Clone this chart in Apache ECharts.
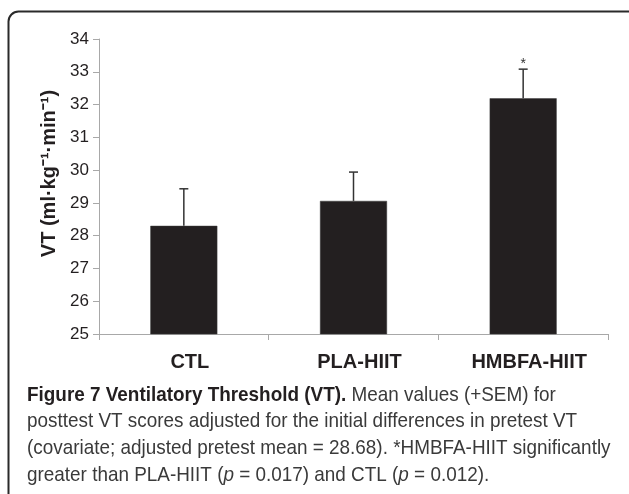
<!DOCTYPE html>
<html>
<head>
<meta charset="utf-8">
<script src="https://cdn.jsdelivr.net/npm/echarts@6/dist/echarts.min.js"></script>
<style>
html,body{margin:0;padding:0;background:#fff;}
#chart{width:629px;height:494px;}
</style>
</head>
<body>
<div id="chart"></div>
<script>
// ---- data ----
var categories = ['CTL', 'PLA-HIIT', 'HMBFA-HIIT'];
var meanValues = [28.30, 29.06, 32.19];
var semUpper = [29.43, 29.94, 33.08];
var significance = ['', '', '*'];
var yTicks = [25, 26, 27, 28, 29, 30, 31, 32, 33, 34];
var yAxisTitle = 'VT (ml·kg⁻¹·min⁻¹)';
var captionLines = [
  [{t:'Figure 7 Ventilatory Threshold (VT).', s:'b'}, {t:' Mean values (+SEM) for', s:'n'}],
  [{t:'posttest VT scores adjusted for the initial differences in pretest VT', s:'n'}],
  [{t:'(covariate; adjusted pretest mean = 28.68). *HMBFA-HIIT significantly', s:'n'}],
  [{t:'greater than PLA-HIIT (', s:'n'}, {t:'p', s:'i'}, {t:' = 0.017) and CTL (', s:'n'}, {t:'p', s:'i'}, {t:' = 0.012).', s:'n'}]
];

var chart = echarts.init(document.getElementById('chart'), null, {renderer: 'canvas'});

var captionFont = '"Liberation Sans", Arial, sans-serif';
var captionLineY = [395, 421.7, 448.3, 475];
var captionGraphics = captionLines.map(function (line, i) {
  return {
    type: 'text',
    x: 27,
    y: captionLineY[i],
    scaleX: 0.9,
    scaleY: 1,
    originX: 0,
    originY: 0,
    style: {
      text: line.map(function (p) { return '{' + p.s + '|' + p.t + '}'; }).join(''),
      verticalAlign: 'middle',
      align: 'left',
      rich: {
        b: {fontFamily: captionFont, fontSize: 21, fontWeight: 'bold', fill: '#231f20', lineHeight: 24},
        n: {fontFamily: captionFont, fontSize: 21, fontWeight: 'normal', fill: '#3a3a3a', lineHeight: 24},
        i: {fontFamily: captionFont, fontSize: 21, fontStyle: 'italic', fill: '#3a3a3a', lineHeight: 24}
      }
    }
  };
});

var option = {
  backgroundColor: '#ffffff',
  animation: false,
  grid: {left: 99, right: 21, top: 39, bottom: 160, containLabel: false},
  xAxis: {
    type: 'category',
    data: categories,
    axisLine: {show: true, lineStyle: {color: '#a8a8a8', width: 1}},
    axisTick: {show: true, alignWithLabel: false, length: 6, lineStyle: {color: '#a8a8a8'}},
    axisLabel: {
      margin: 18,
      fontFamily: '"Liberation Sans", Arial, sans-serif',
      fontSize: 20,
      fontWeight: 'bold',
      color: '#231f20',
      padding: [0, 0, 0, 12]
    }
  },
  yAxis: {
    type: 'value',
    min: yTicks[0],
    max: yTicks[yTicks.length - 1],
    interval: 1,
    name: yAxisTitle,
    nameLocation: 'middle',
    nameGap: 39,
    nameRotate: 90,
    nameTextStyle: {
      fontFamily: '"Liberation Sans", Arial, sans-serif',
      fontSize: 20,
      fontWeight: 'bold',
      color: '#231f20',
      padding: [0, 0, 0, 26]
    },
    splitLine: {show: false},
    axisLine: {show: true, lineStyle: {color: '#a8a8a8', width: 1}},
    axisTick: {show: true, length: 6, lineStyle: {color: '#a8a8a8'}},
    axisLabel: {
      margin: 10,
      fontFamily: '"Liberation Sans", Arial, sans-serif',
      fontSize: 17,
      color: '#231f20'
    }
  },
  series: [
    {
      type: 'bar',
      data: meanValues,
      barWidth: 67,
      itemStyle: {color: '#231f20', borderColor: '#3a3a3a', borderWidth: 0.5},
      z: 2
    },
    {
      type: 'custom',
      data: categories.map(function (c, i) { return [i, meanValues[i], semUpper[i]]; }),
      z: 3,
      renderItem: function (params, api) {
        var i = api.value(0);
        var lo = api.coord([i, api.value(1)]);
        var hi = api.coord([i, api.value(2)]);
        var half = 4.5;
        var children = [
          {type: 'line', shape: {x1: lo[0], y1: lo[1], x2: hi[0], y2: hi[1]}, style: {stroke: '#333', lineWidth: 1.5}},
          {type: 'line', shape: {x1: hi[0] - half, y1: hi[1], x2: hi[0] + half, y2: hi[1]}, style: {stroke: '#333', lineWidth: 1.5}}
        ];
        var mark = significance[i];
        if (mark) {
          children.push({
            type: 'text',
            x: hi[0],
            y: hi[1] + 2,
            style: {text: mark, fontFamily: '"Liberation Sans", Arial, sans-serif', fontSize: 14, fill: '#333', align: 'center', verticalAlign: 'bottom'}
          });
        }
        return {type: 'group', children: children};
      }
    }
  ],
  graphic: [
    {
      type: 'rect',
      shape: {x: 8.5, y: 11.5, width: 630, height: 600, r: 10},
      style: {fill: 'none', stroke: '#2a2a2a', lineWidth: 2},
      silent: true,
      z: -1
    }
  ].concat(captionGraphics)
};

chart.setOption(option);
</script>
</body>
</html>
